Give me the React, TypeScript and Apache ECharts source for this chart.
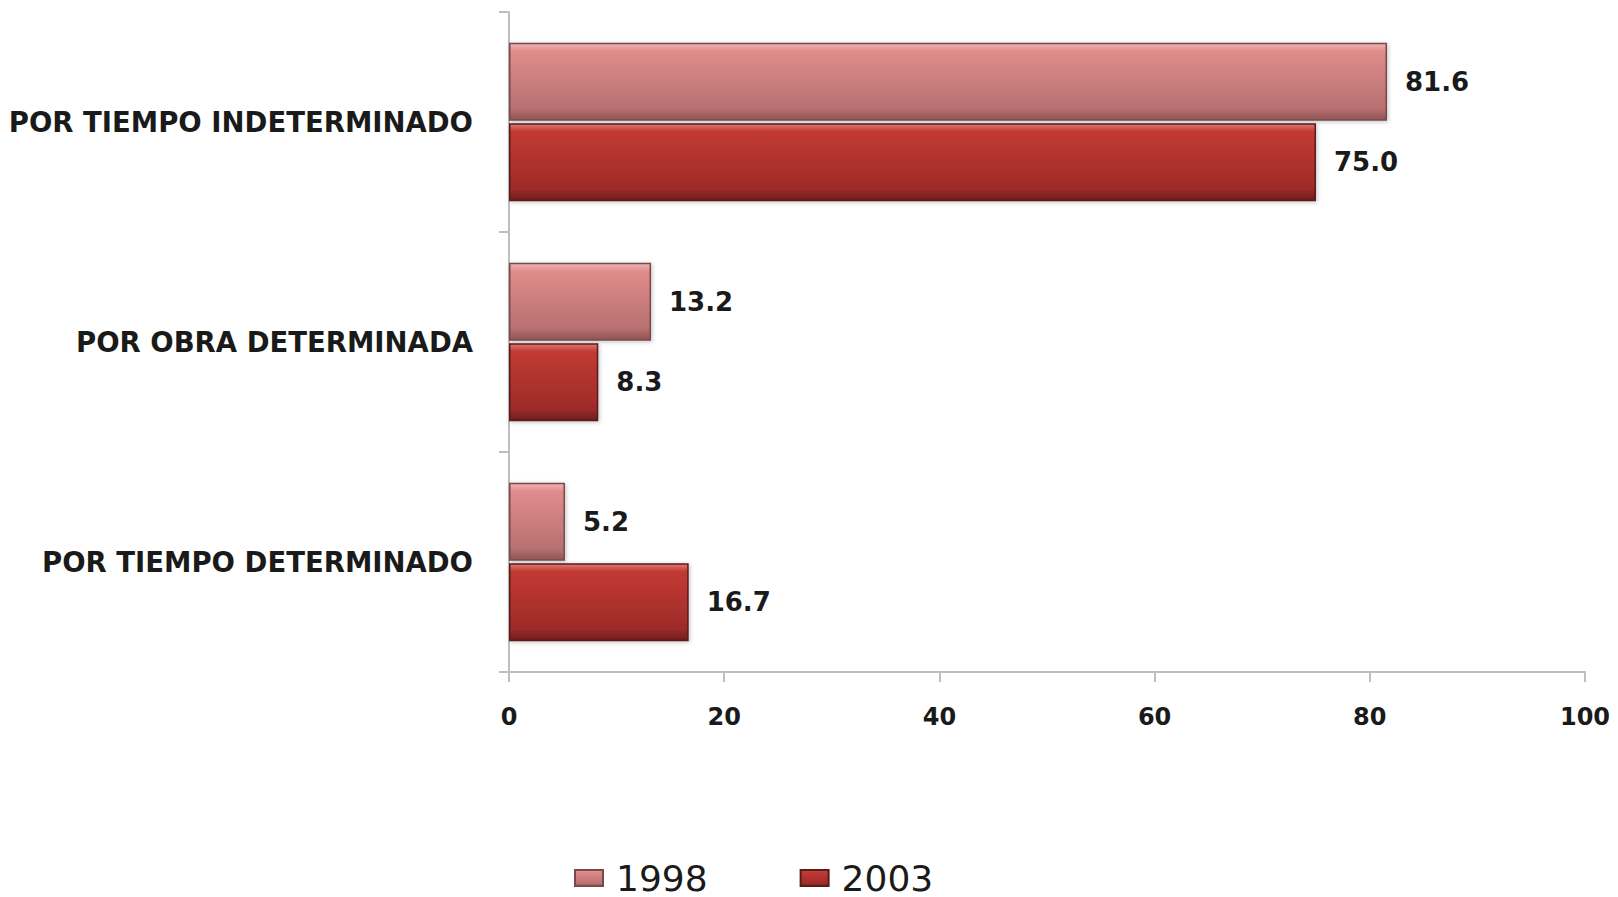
import React, { useEffect, useRef } from "react";
import * as echarts from "echarts";

const categories = ["POR TIEMPO INDETERMINADO", "POR OBRA DETERMINADA", "POR TIEMPO DETERMINADO"];
const values1998 = [81.6, 13.2, 5.2];
const values2003 = [75.0, 8.3, 16.7];
const seriesNames = ["1998", "2003"];

const grad1998 = new echarts.graphic.LinearGradient(0, 0, 0, 1, [
  { offset: 0, color: "#f0b4b4" },
  { offset: 0.1, color: "#e08c8c" },
  { offset: 0.85, color: "#b87070" },
  { offset: 1, color: "#8e5454" },
]);
const grad2003 = new echarts.graphic.LinearGradient(0, 0, 0, 1, [
  { offset: 0, color: "#e07a72" },
  { offset: 0.1, color: "#c23a33" },
  { offset: 0.85, color: "#9e2b29" },
  { offset: 1, color: "#6e1c1c" },
]);

export default function App() {
  const ref = useRef<HTMLDivElement>(null);
  useEffect(() => {
    const chart = echarts.init(ref.current!, undefined, { renderer: "svg" });
    const labelStyle = {
      show: true,
      position: "right",
      distance: 18,
      color: "#1a1a1a",
      fontFamily: "DejaVu Sans",
      fontWeight: "bold",
      fontSize: 26,
      padding: [6, 0, 0, 0],
      formatter: (p: any) => Number(p.value).toFixed(1),
    };
    chart.setOption({
      animation: false,
      backgroundColor: "#ffffff",
      grid: { left: 509, right: 33, top: 12, bottom: 225, containLabel: false },
      legend: {
        data: seriesNames,
        left: 569,
        top: 855,
        itemWidth: 28,
        itemHeight: 16,
        itemGap: 92,
        icon: "rect",
        textStyle: { fontFamily: "DejaVu Sans", fontSize: 36, color: "#1a1a1a", padding: [0, 0, 0, 8] },
      },
      xAxis: {
        type: "value",
        min: 0,
        max: 100,
        interval: 20,
        axisLine: { show: true, lineStyle: { color: "#bfbfbf", width: 2 } },
        axisTick: { show: true, length: 10, lineStyle: { color: "#bfbfbf", width: 2 } },
        splitLine: { show: false },
        axisLabel: {
          margin: 33,
          color: "#1a1a1a",
          fontFamily: "DejaVu Sans",
          fontWeight: "bold",
          fontSize: 24,
        },
      },
      yAxis: {
        type: "category",
        data: categories,
        inverse: true,
        axisLine: { show: true, lineStyle: { color: "#bfbfbf", width: 2 } },
        axisTick: { show: true, length: 10, lineStyle: { color: "#bfbfbf", width: 2 } },
        axisLabel: {
          margin: 36,
          color: "#1a1a1a",
          fontFamily: "DejaVu Sans",
          fontWeight: "bold",
          fontSize: 27.5,
          padding: [4, 0, 0, 0],
        },
      },
      series: [
        {
          name: seriesNames[0],
          type: "bar",
          data: values1998,
          barWidth: 78,
          barGap: "3%",
          itemStyle: {
            color: grad1998,
            borderColor: "#7a4a4a",
            borderWidth: 1.5,
            shadowColor: "rgba(0,0,0,0.25)",
            shadowBlur: 4,
            shadowOffsetX: 1,
            shadowOffsetY: 1,
          },
          label: labelStyle,
        },
        {
          name: seriesNames[1],
          type: "bar",
          data: values2003,
          barWidth: 78,
          barGap: "3%",
          itemStyle: {
            color: grad2003,
            borderColor: "#5a1a1a",
            borderWidth: 1.5,
            shadowColor: "rgba(0,0,0,0.25)",
            shadowBlur: 4,
            shadowOffsetX: 1,
            shadowOffsetY: 1,
          },
          label: labelStyle,
        },
      ],
    });
    return () => chart.dispose();
  }, []);
  return <div ref={ref} style={{ width: 1618, height: 897, position: "absolute", left: 0, top: 0 }} />;
}
